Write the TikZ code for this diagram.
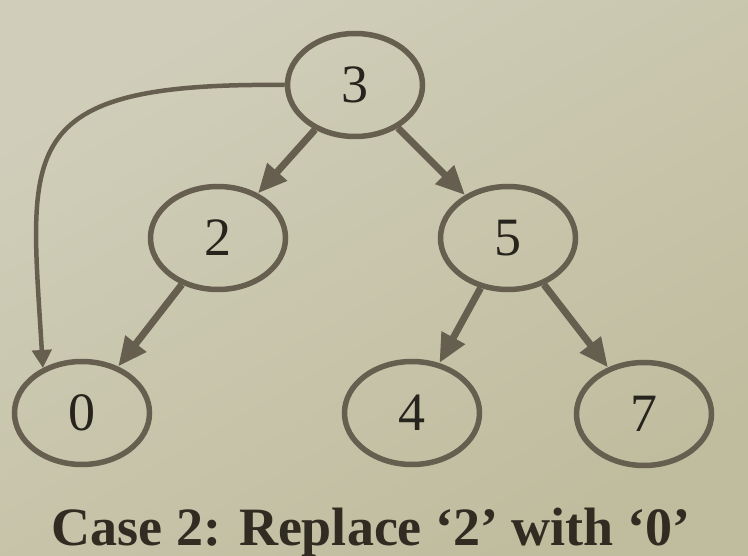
\documentclass[tikz,border=0pt]{standalone}
\usepackage{fontspec}
\setmainfont{Liberation Serif}
\usetikzlibrary{shapes.geometric,arrows.meta}
\definecolor{bgA}{RGB}{208,206,186}
\definecolor{bgB}{RGB}{192,188,158}
\definecolor{edgecol}{RGB}{102,94,78}
\definecolor{txtcol}{RGB}{38,36,28}
\definecolor{capcol}{RGB}{48,44,34}
\begin{document}
\begin{tikzpicture}[x=1pt,y=-1pt,
  tnode/.style={ellipse,draw=edgecol,line width=5.5pt,minimum width=135pt,minimum height=103pt,inner sep=0pt,
    text=txtcol,font=\fontsize{54}{60}\selectfont},
  tedge/.style={draw=edgecol,line width=7pt,-{Triangle[length=29pt,width=25pt]}},
  cedge/.style={draw=edgecol,line width=4.5pt,-{Triangle[length=18pt,width=19pt]}}]
\shade[top color=bgA,bottom color=bgB,shading angle=30] (0,0) rectangle (748,556);
\useasboundingbox (0,0) rectangle (748,556);
\node[tnode] (n3) at (355,85) {3};
\node[tnode] (n2) at (218,238) {2};
\node[tnode] (n5) at (508,238) {5};
\node[tnode] (n0) at (82,413) {0};
\node[tnode] (n4) at (412,413) {4};
\node[tnode] (n7) at (644,414) {7};
\draw[tedge] (n3) -- (n2);
\draw[tedge] (n3) -- (n5);
\draw[tedge] (n2) -- (n0);
\draw[tedge] (n5) -- (n4);
\draw[tedge] (n5) -- (n7);
\draw[cedge] (n3.west) .. controls (10,82) and (30,150) .. (n0.131);
\node[anchor=base,text=capcol,font=\fontsize{54}{60}\selectfont\bfseries] (cap) at (371,545) {Case 2: Replace ‘2’ with ‘0’};
\end{tikzpicture}
\end{document}
